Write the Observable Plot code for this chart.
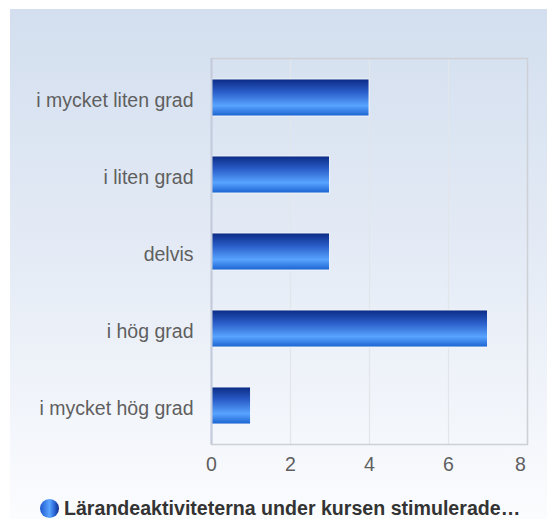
<!DOCTYPE html>
<html>
<head>
<meta charset="utf-8">
<script src="https://cdn.jsdelivr.net/npm/d3@7"></script>
<script src="https://cdn.jsdelivr.net/npm/@observablehq/plot@0.6"></script>
<style>
  html, body { margin: 0; padding: 0; background: #fff; }
  #box {
    position: absolute; left: 10px; top: 9px; width: 537px; height: 510px;
    background: linear-gradient(to bottom, #d3dfef 0%, #e3eaf5 45%, #fbfcfe 100%);
    font-family: "Liberation Sans", Arial, sans-serif;
  }
  #legend {
    position: absolute; left: 30px; top: 488px; height: 22px;
    display: flex; align-items: center;
    font-weight: bold; font-size: 19.6px; color: #333;
  }
  #legend .dot {
    width: 19px; height: 19px; border-radius: 50%; margin-right: 5px;
    background: linear-gradient(to right, #1d58cc 0%, #5aa5ff 50%, #2a6ad8 75%, #0c2b86 100%);
  }
</style>
</head>
<body>
<div id="box"><div id="chart"></div><div id="legend"><span class="dot"></span><span id="legendText"></span></div></div>
<script>
const categories = ["i mycket liten grad", "i liten grad", "delvis", "i hög grad", "i mycket hög grad"];
const values = [4, 3, 3, 7, 1];
const xTicks = [0, 2, 4, 6, 8];
const seriesName = "Lärandeaktiviteterna under kursen stimulerade…";

document.getElementById("legendText").textContent = seriesName;

const data = categories.map((c, i) => ({category: c, value: values[i]}));
const lastTick = xTicks[xTicks.length - 1];

const chart = Plot.plot({
  width: 537,
  height: 470,
  marginTop: 49,
  marginBottom: 35,
  marginLeft: 201,
  marginRight: 20,
  style: {background: "transparent", fontFamily: "Liberation Sans, Arial, sans-serif", fontSize: "19.5px", color: "#5f5f5f", overflow: "visible"},
  x: {domain: [0, 8], label: null},
  y: {domain: categories, label: null, paddingInner: 0.52, paddingOuter: 0.26},
  marks: [
    Plot.gridX(xTicks, {stroke: "#e2e5ea", strokeOpacity: 1, strokeWidth: 1.2}),
    Plot.frame({stroke: "#cdd0d5", strokeWidth: 1.5}),
    Plot.barX(data, {y: "category", x: "value", fill: "url(#barGrad)", stroke: "#f4f7fc", strokeWidth: 1, strokeOpacity: 0.9}),
    Plot.ruleX([0], {stroke: "#c3cbdd", strokeWidth: 2}),
    Plot.axisX(xTicks.filter(t => t !== lastTick), {tickSize: 0, tickPadding: 13, label: null}),
    Plot.axisX([lastTick], {tickSize: 0, tickPadding: 13, dx: -7, label: null}),
    Plot.axisY({tickSize: 0, tickPadding: 18, dy: 3, label: null})
  ]
});

const svg = d3.select(chart);
const defs = svg.insert("defs", ":first-child");
const g = defs.append("linearGradient").attr("id", "barGrad").attr("x1", 0).attr("y1", 0).attr("x2", 0).attr("y2", 1);
g.append("stop").attr("offset", "0%").attr("stop-color", "#0b2a84");
g.append("stop").attr("offset", "35%").attr("stop-color", "#2a5dc8");
g.append("stop").attr("offset", "72%").attr("stop-color", "#58a4ff");
g.append("stop").attr("offset", "100%").attr("stop-color", "#1a62d0");

document.getElementById("chart").appendChild(chart);
</script>
</body>
</html>
